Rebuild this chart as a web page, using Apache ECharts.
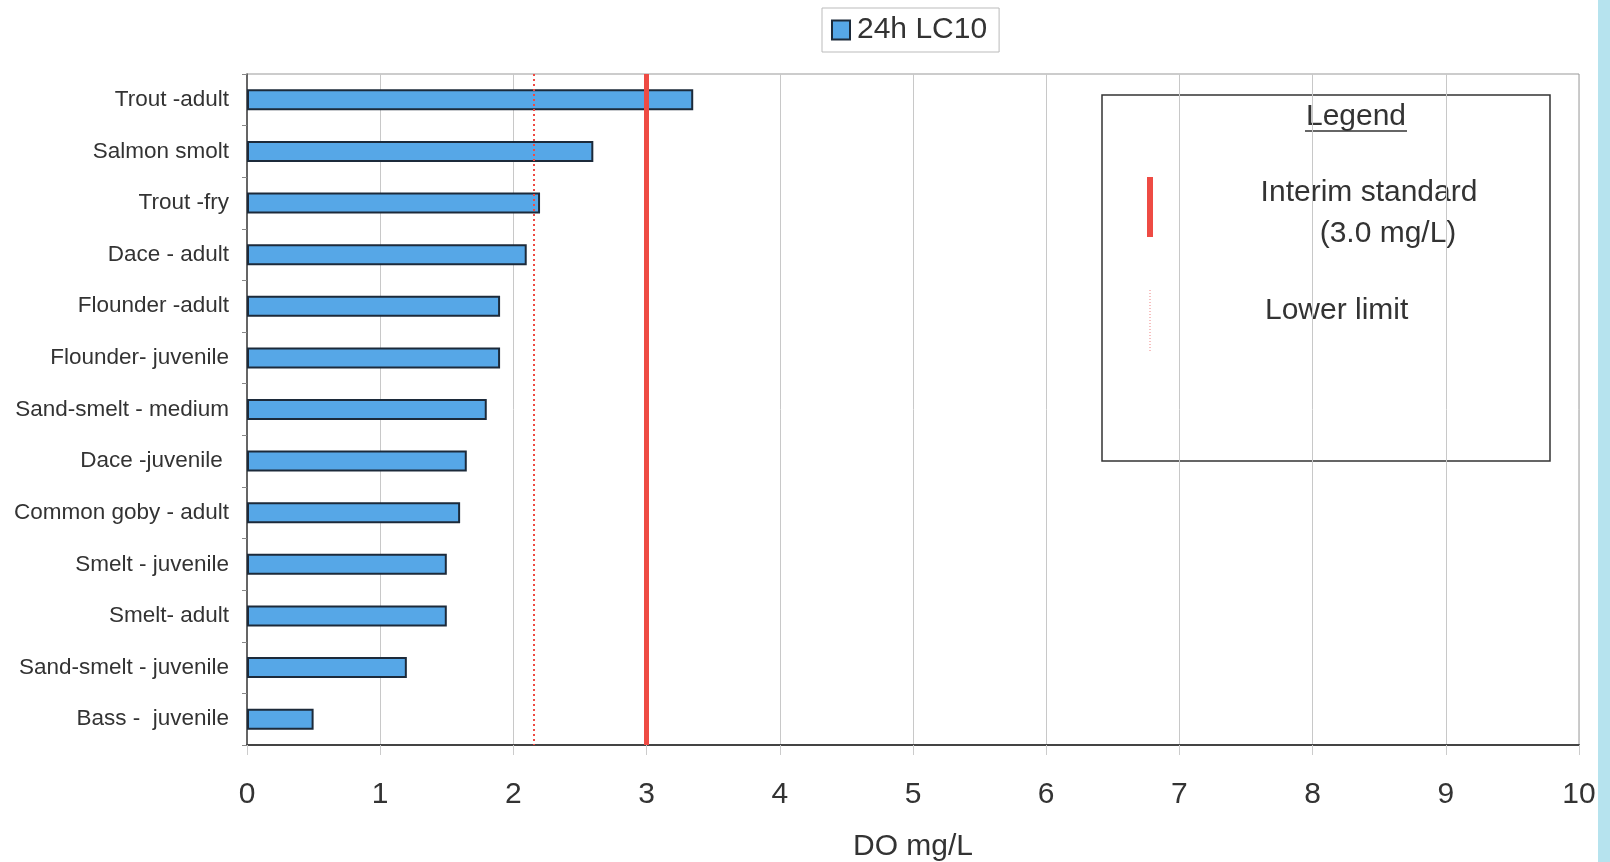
<!DOCTYPE html>
<html>
<head>
<meta charset="utf-8">
<script src="https://cdn.jsdelivr.net/npm/echarts@6/dist/echarts.min.js"></script>
<style>
html,body{margin:0;padding:0;background:#fff;}
#chart{width:1610px;height:862px;}
</style>
</head>
<body>
<div id="chart"></div>
<script>
const categories = ["Trout -adult","Salmon smolt","Trout -fry","Dace - adult","Flounder -adult","Flounder- juvenile","Sand-smelt - medium","Dace -juvenile ","Common goby - adult","Smelt - juvenile","Smelt- adult","Sand-smelt - juvenile","Bass -  juvenile"];
const lc10 = [3.35,2.6,2.2,2.1,1.9,1.9,1.8,1.65,1.6,1.5,1.5,1.2,0.5];
const interimStandard = 3.0;
const lowerLimit = 2.15;
const xTicks = {min:0,max:10,interval:1};

const chart = echarts.init(document.getElementById('chart'));
const font = 'Liberation Sans, Arial, sans-serif';
chart.setOption({
  animation:false,
  backgroundColor:'#fff',
  textStyle:{fontFamily:font},
  legend:{
    data:['24h LC10'],
    left:822, top:8,
    icon:'rect',
    itemWidth:18, itemHeight:19, itemGap:4,
    padding:[7,12,7,9],
    borderColor:'#bbb', borderWidth:1,
    textStyle:{fontSize:30,color:'#333',fontFamily:font,padding:[0,0,0,2]}
  },
  grid:{left:247,right:31,top:74,bottom:117,show:true,borderColor:'#999',borderWidth:1,containLabel:false,outerBoundsMode:'none'},
  xAxis:{
    type:'value', min:xTicks.min, max:xTicks.max, interval:xTicks.interval,
    name:'DO mg/L', nameLocation:'middle', nameGap:87,
    nameTextStyle:{fontSize:30,color:'#333',fontFamily:font},
    axisLine:{show:true,lineStyle:{color:'#444',width:2}},
    axisTick:{show:true,length:10,lineStyle:{color:'#ccc'}},
    axisLabel:{fontSize:30,color:'#333',margin:35,fontFamily:font},
    splitLine:{show:true,lineStyle:{color:'#c8c8c8',width:1}}
  },
  yAxis:{
    type:'category', data:categories, inverse:true,
    axisLine:{show:true,lineStyle:{color:'#444',width:1.5}},
    axisTick:{show:true,length:5,lineStyle:{color:'#888'}},
    axisLabel:{fontSize:22.5,color:'#333',margin:18,fontFamily:font}
  },
  series:[{
    name:'24h LC10', type:'bar', data:lc10, barWidth:21,
    itemStyle:{color:'#56a7e7',borderColor:'#1c2a3a',borderWidth:2},
    markLine:{
      silent:true, symbol:'none', label:{show:false},
      data:[
        {xAxis:interimStandard,lineStyle:{color:'#ee4b44',width:5,type:'solid'}},
        {xAxis:lowerLimit,lineStyle:{color:'#ee4b44',width:2,type:[2,3]}}
      ]
    }
  }],
  graphic:[
    {type:'rect',shape:{x:1598,y:0,width:12,height:862},style:{fill:'#b6e3ee'}},
    {type:'rect',shape:{x:1102,y:95,width:448,height:366},style:{fill:'#fff',stroke:'#333',lineWidth:1.5}},
    {type:'text',x:1356,y:117,style:{text:'Legend',font:'30px '+font,fill:'#333',align:'center',verticalAlign:'middle'}},
    {type:'line',shape:{x1:1305,y1:131,x2:1407,y2:131},style:{stroke:'#333',lineWidth:1.5}},
    {type:'line',shape:{x1:1150,y1:177,x2:1150,y2:237},style:{stroke:'#ee4b44',lineWidth:6}},
    {type:'text',x:1369,y:193,style:{text:'Interim standard',font:'30px '+font,fill:'#333',align:'center',verticalAlign:'middle'}},
    {type:'text',x:1388,y:234,style:{text:'(3.0 mg/L)',font:'30px '+font,fill:'#333',align:'center',verticalAlign:'middle'}},
    {type:'line',shape:{x1:1150,y1:290,x2:1150,y2:352},style:{stroke:'#ee8080',lineWidth:1,lineDash:[1,2]}},
    {type:'text',x:1265,y:311,style:{text:'Lower limit',font:'30px '+font,fill:'#333',align:'left',verticalAlign:'middle'}}
  ]
});
</script>
</body>
</html>
